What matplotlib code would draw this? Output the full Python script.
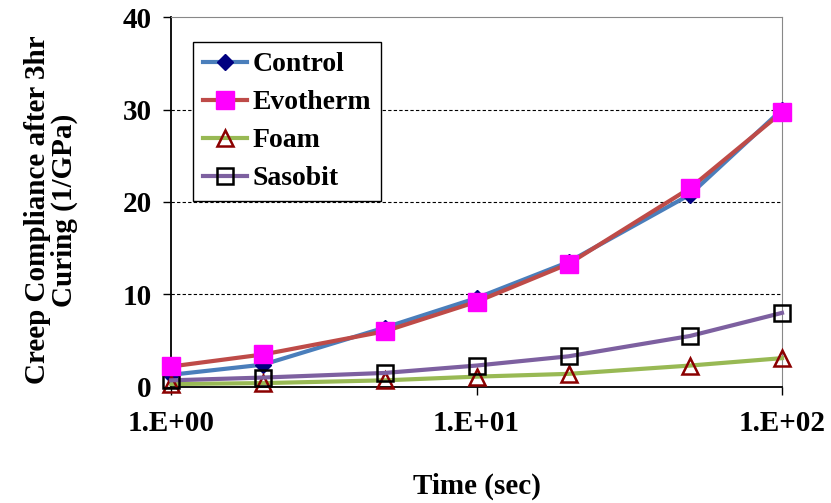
import numpy as np
import matplotlib.pyplot as plt
from matplotlib.ticker import FixedLocator, NullLocator

# data
time = [1, 2, 5, 10, 20, 50, 100]
control = [1.3, 2.4, 6.4, 9.6, 13.5, 20.8, 30.0]
evotherm = [2.2, 3.5, 6.0, 9.2, 13.3, 21.5, 29.7]
foam = [0.3, 0.4, 0.7, 1.1, 1.4, 2.3, 3.1]
sasobit = [0.7, 1.0, 1.5, 2.3, 3.3, 5.5, 8.0]
xticks = [1, 10, 100]
xticklabels = ["1.E+00", "1.E+01", "1.E+02"]

plt.rcParams['font.family'] = 'Liberation Serif'
plt.rcParams['font.weight'] = 'bold'

fig = plt.figure(figsize=(8.31, 5.03), dpi=100)
ax = fig.add_axes([0.206, 0.231, 0.735, 0.735])

ax.plot(time, control, color='#4a7ebb', lw=3, marker='D', ms=8,
        mfc='#000080', mec='#000080', label='Control', zorder=3, clip_on=False)
ax.plot(time, evotherm, color='#be4b48', lw=3, marker='s', ms=13,
        mfc='#ff00ff', mec='#ff00ff', label='Evotherm', zorder=4, clip_on=False)
ax.plot(time, foam, color='#98b954', lw=3, marker='^', ms=12,
        mfc='none', mec='#8b0000', mew=1.8, label='Foam', zorder=3, clip_on=False)
ax.plot(time, sasobit, color='#7d60a0', lw=3, marker='s', ms=12,
        mfc='none', mec='black', mew=1.8, label='Sasobit', zorder=3, clip_on=False)

ax.set_xscale('log')
ax.set_xlim(1, 100)
ax.set_ylim(0, 40)
ax.xaxis.set_major_locator(FixedLocator(xticks))
ax.xaxis.set_minor_locator(NullLocator())
ax.set_xticklabels(xticklabels)
ax.set_yticks([0, 10, 20, 30, 40])

for y in [10, 20, 30]:
    ax.axhline(y, color='black', lw=0.8, ls=(0, (3, 2)), zorder=1)

ax.spines['top'].set_color('#888888')
ax.spines['right'].set_color('#888888')
ax.spines['left'].set_linewidth(1.3)
ax.spines['bottom'].set_linewidth(1.3)
ax.tick_params(axis='both', labelsize=21, length=6, width=1, direction='out')
ax.tick_params(axis='x', pad=11)
ax.tick_params(axis='y', pad=8)

ax.set_xlabel('Time (sec)', fontsize=21, fontweight='bold')
ax.xaxis.set_label_coords(0.5, -0.232)
ax.set_ylabel('Creep Compliance after 3hr\nCuring (1/GPa)', fontsize=21,
              fontweight='bold', linespacing=1.0)
ax.yaxis.set_label_coords(-0.152, 0.478)

leg = ax.legend(loc='upper left', bbox_to_anchor=(0.036, 0.932), fontsize=20,
                frameon=True, fancybox=False, edgecolor='black',
                handlelength=1.6, borderpad=0.35, labelspacing=0.45,
                handletextpad=0.2, borderaxespad=0)
leg.get_frame().set_linewidth(1.0)
leg.get_frame().set_alpha(1)

fig.savefig('out.png', dpi=100)
